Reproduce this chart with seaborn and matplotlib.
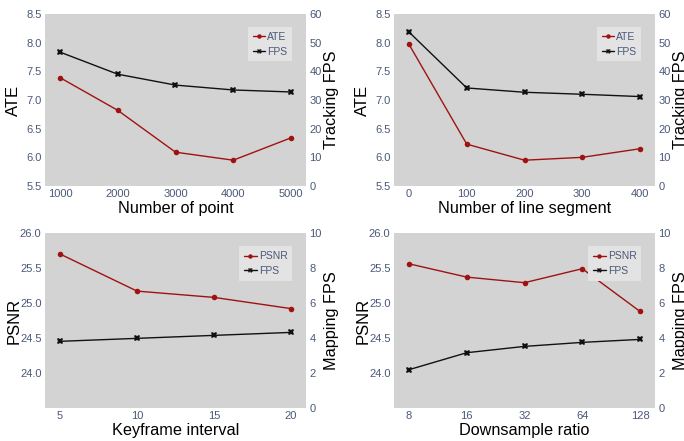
import matplotlib
matplotlib.use("Agg")
import matplotlib.pyplot as plt
import seaborn as sns
import pandas as pd
import numpy as np

# Data
points_x = ["1000", "2000", "3000", "4000", "5000"]
points_ate = [7.39, 6.82, 6.09, 5.95, 6.34]
points_fps = [46.7, 39.0, 35.2, 33.5, 32.8]

lines_x = ["0", "100", "200", "300", "400"]
lines_ate = [7.97, 6.23, 5.95, 6.00, 6.15]
lines_fps = [53.7, 34.2, 32.7, 32.0, 31.2]

kf_x = ["5", "10", "15", "20"]
kf_psnr = [25.70, 25.17, 25.08, 24.92]
kf_fps = [3.81, 3.98, 4.15, 4.32]

ds_x = ["8", "16", "32", "64", "128"]
ds_psnr = [25.56, 25.37, 25.29, 25.49, 24.88]
ds_fps = [2.19, 3.16, 3.52, 3.75, 3.92]

sns.set_theme(style="white")
plt.rcParams['font.family'] = ['Liberation Sans', 'DejaVu Sans']

RED = "#a01212"
BLK = "#111111"
TICK = "#4a5878"
BG = "#d3d3d3"

fig = plt.figure(figsize=(6.84, 4.41), dpi=100)

panels = [
    dict(pos=[45/684, (441-186)/441, 261/684, 172/441], x=points_x, a=points_ate, b=points_fps,
         la="ATE", lb="FPS", xl="Number of point", yl="ATE", yr="Tracking FPS",
         ylim=(5.5, 8.5), yticks=np.arange(5.5, 8.51, 0.5), rlim=(0, 60), rticks=range(0, 61, 10)),
    dict(pos=[394/684, (441-186)/441, 261/684, 172/441], x=lines_x, a=lines_ate, b=lines_fps,
         la="ATE", lb="FPS", xl="Number of line segment", yl="ATE", yr="Tracking FPS",
         ylim=(5.5, 8.5), yticks=np.arange(5.5, 8.51, 0.5), rlim=(0, 60), rticks=range(0, 61, 10)),
    dict(pos=[45/684, (441-408)/441, 261/684, 175/441], x=kf_x, a=kf_psnr, b=kf_fps,
         la="PSNR", lb="FPS", xl="Keyframe interval", yl="PSNR", yr="Mapping FPS",
         ylim=(23.5, 26.0), yticks=np.arange(24.0, 26.01, 0.5), rlim=(0, 10), rticks=range(0, 11, 2)),
    dict(pos=[394/684, (441-408)/441, 261/684, 175/441], x=ds_x, a=ds_psnr, b=ds_fps,
         la="PSNR", lb="FPS", xl="Downsample ratio", yl="PSNR", yr="Mapping FPS",
         ylim=(23.5, 26.0), yticks=np.arange(24.0, 26.01, 0.5), rlim=(0, 10), rticks=range(0, 11, 2)),
]

for p in panels:
    ax = fig.add_axes(p["pos"])
    ax.set_facecolor(BG)
    idx = np.arange(len(p["x"]))
    df = pd.DataFrame({"i": idx, "a": p["a"], "b": p["b"]})
    sns.lineplot(data=df, x="i", y="a", ax=ax, color=RED, marker="o", markersize=4,
                 markeredgewidth=0, linewidth=1.0, label=p["la"], legend=False)
    ax2 = ax.twinx()
    sns.lineplot(data=df, x="i", y="b", ax=ax2, color=BLK, marker="X", markersize=4.5,
                 markeredgewidth=0, linewidth=1.0, label=p["lb"], legend=False)
    n = len(p["x"])
    pad = 0.26 * (n - 1) / 4
    ax.set_xlim(-pad, n - 1 + pad)
    ax.set_xticks(idx)
    ax.set_xticklabels(p["x"])
    ax.set_ylim(*p["ylim"])
    ax.set_yticks(p["yticks"])
    ax.set_yticklabels(["{:.1f}".format(v) for v in p["yticks"]])
    ax2.set_ylim(*p["rlim"])
    ax2.set_yticks(list(p["rticks"]))
    for a in (ax, ax2):
        for s in a.spines.values():
            s.set_visible(False)
        a.tick_params(axis="both", length=0, labelsize=8, colors=TICK, pad=2.5)
    ax.set_xlabel(p["xl"], fontsize=11.7, color="black", labelpad=1)
    ax.set_ylabel(p["yl"], fontsize=12, color="black", va="center")
    ax2.set_ylabel(p["yr"], fontsize=11.7, color="black", va="center", rotation=90)
    ax.yaxis.set_label_coords(-0.12, 0.5)
    ax2.yaxis.set_label_coords(1.096, 0.5)
    h1, l1 = ax.get_legend_handles_labels()
    h2, l2 = ax2.get_legend_handles_labels()
    leg = ax2.legend(h1 + h2, l1 + l2, loc="upper right", bbox_to_anchor=(0.955, 0.935),
                     fontsize=7.5, frameon=True, fancybox=False, handlelength=1.2,
                     handletextpad=0.2, borderpad=0.45, labelspacing=0.45, markerscale=0.8,
                     borderaxespad=0.2)
    leg.get_frame().set_facecolor("#e3e3e3")
    leg.get_frame().set_edgecolor("none")
    leg.get_frame().set_alpha(1)
    for t in leg.get_texts():
        t.set_color(TICK)

fig.savefig("out.png", dpi=100, facecolor="white")
